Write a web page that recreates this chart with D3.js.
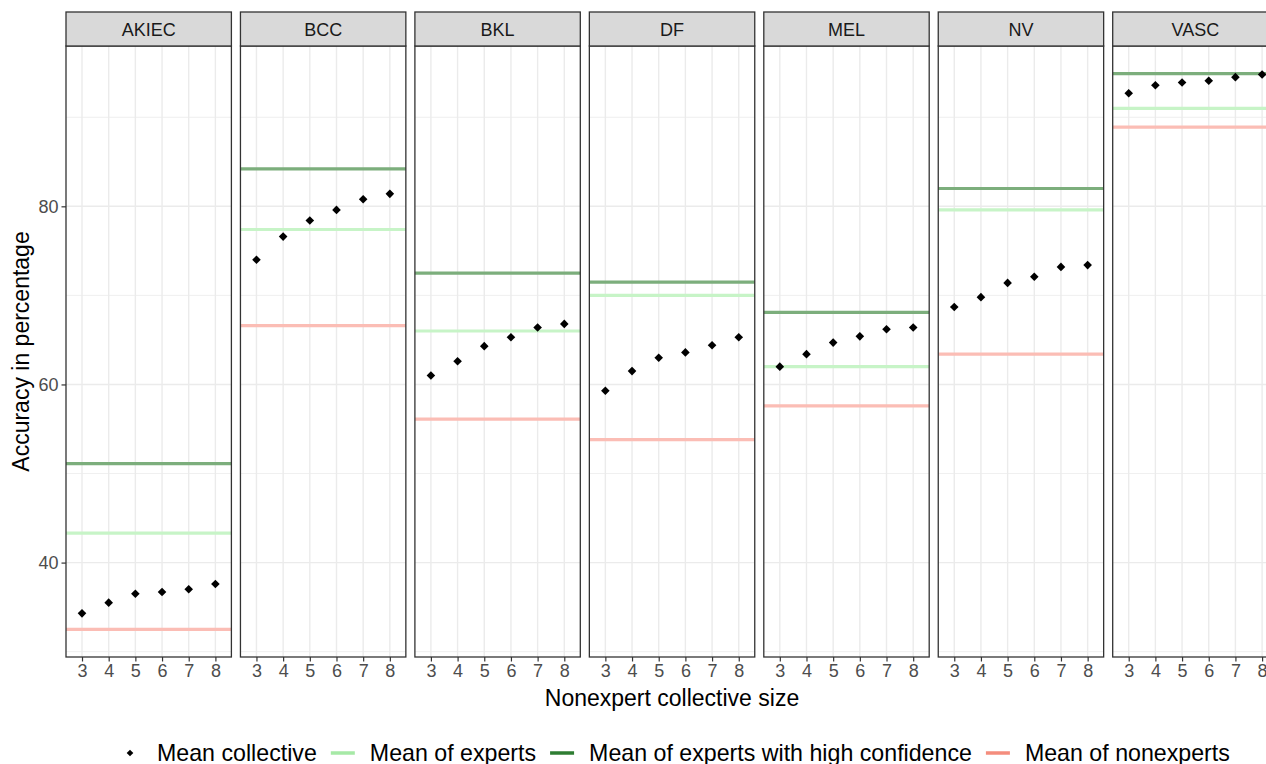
<!DOCTYPE html>
<html>
<head>
<meta charset="utf-8">
<script src="https://cdn.jsdelivr.net/npm/d3@7"></script>
<style>
  body { margin: 0; background: #fff; }
  text { font-family: "Liberation Sans", Arial, sans-serif; }
</style>
</head>
<body>
<div id="vis"></div>
<script>
// data
var categories = ["AKIEC", "BCC", "BKL", "DF", "MEL", "NV", "VASC"];
var sizes = [3, 4, 5, 6, 7, 8];

var collAKIEC = [34.3, 35.5, 36.5, 36.7, 37.0, 37.6];
var collBCC   = [74.0, 76.6, 78.4, 79.6, 80.8, 81.4];
var collBKL   = [61.0, 62.6, 64.3, 65.3, 66.4, 66.8];
var collDF    = [59.3, 61.5, 63.0, 63.6, 64.4, 65.3];
var collMEL   = [62.0, 63.4, 64.7, 65.4, 66.2, 66.4];
var collNV    = [68.7, 69.8, 71.4, 72.1, 73.2, 73.4];
var collVASC  = [92.7, 93.6, 93.9, 94.1, 94.5, 94.8];

var meanExperts    = [43.3, 77.4, 66.0, 70.0, 62.0, 79.6, 91.0];
var meanHighConf   = [51.1, 84.2, 72.5, 71.5, 68.1, 82.0, 94.9];
var meanNonexperts = [32.5, 66.6, 56.1, 53.8, 57.6, 63.4, 88.9];

var yTicks = [40, 60, 80];
var yMinor = [30, 50, 70, 90];

var legendLabels = ["Mean collective", "Mean of experts", "Mean of experts with high confidence", "Mean of nonexperts"];

var collective = [collAKIEC, collBCC, collBKL, collDF, collMEL, collNV, collVASC];

var w = 1266, h = 764;

var svg = d3.select("#vis").append("svg")
  .attr("width", w).attr("height", h);

// panel layout
var step = 174.45, gap = 9.05;
var pLeft = 66, pTop = 46, pBottom = 657, stripTop = 12;

var fx = d3.scaleBand()
  .domain(categories)
  .range([pLeft, pLeft + step * (categories.length - gap / step)])
  .paddingInner(gap / step)
  .paddingOuter(0);

var x = d3.scalePoint()
  .domain(sizes)
  .range([0, fx.bandwidth()])
  .padding(0.6);

var y = d3.scaleLinear()
  .domain([29.4, 98.0])
  .range([pBottom, pTop]);

var lineCols = { experts: "#c7f4c7", high: "#7cae7c", non: "#fbbdb5" };

var panels = svg.selectAll("g.panel")
  .data(categories)
  .enter().append("g")
  .attr("class", "panel")
  .attr("transform", d => `translate(${fx(d)},0)`);

panels.each(function(cat, i) {
  var g = d3.select(this);
  var bw = fx.bandwidth();

  // grid
  g.selectAll("line.minor").data(yMinor).enter().append("line")
    .attr("x1", 0).attr("x2", bw)
    .attr("y1", d => y(d)).attr("y2", d => y(d))
    .attr("stroke", "#ebebeb").attr("stroke-width", 0.8);
  g.selectAll("line.major").data(yTicks).enter().append("line")
    .attr("x1", 0).attr("x2", bw)
    .attr("y1", d => y(d)).attr("y2", d => y(d))
    .attr("stroke", "#ebebeb").attr("stroke-width", 1.4);
  g.selectAll("line.vx").data(sizes).enter().append("line")
    .attr("x1", d => x(d)).attr("x2", d => x(d))
    .attr("y1", pTop).attr("y2", pBottom)
    .attr("stroke", "#ebebeb").attr("stroke-width", 1.4);

  // reference lines
  var refs = [
    [meanExperts[i], lineCols.experts],
    [meanHighConf[i], lineCols.high],
    [meanNonexperts[i], lineCols.non]
  ];
  g.selectAll("line.ref").data(refs).enter().append("line")
    .attr("x1", 0).attr("x2", bw)
    .attr("y1", d => y(d[0])).attr("y2", d => y(d[0]))
    .attr("stroke", d => d[1]).attr("stroke-width", 3.2);

  // points
  g.selectAll("path.pt").data(collective[i]).enter().append("path")
    .attr("d", "M0,-4.3L4.3,0L0,4.3L-4.3,0Z")
    .attr("transform", (d, j) => `translate(${x(sizes[j])},${y(d)})`)
    .attr("fill", "#000");

  // panel border
  g.append("rect")
    .attr("x", 0).attr("y", pTop).attr("width", bw).attr("height", pBottom - pTop)
    .attr("fill", "none").attr("stroke", "#333").attr("stroke-width", 1.3);

  // strip
  g.append("rect")
    .attr("x", 0).attr("y", stripTop).attr("width", bw).attr("height", pTop - stripTop)
    .attr("fill", "#d9d9d9").attr("stroke", "#333").attr("stroke-width", 1.3);
  g.append("text")
    .attr("x", bw / 2).attr("y", 35.5)
    .attr("text-anchor", "middle")
    .attr("font-size", 18).attr("fill", "#1a1a1a")
    .text(cat);

  // x axis
  var ax = g.append("g").attr("transform", `translate(0,${pBottom})`)
    .call(d3.axisBottom(x).tickSize(4.5).tickPadding(3));
  ax.select(".domain").remove();
  ax.selectAll("line").attr("stroke", "#333").attr("stroke-width", 1.2);
  ax.selectAll("text").attr("font-size", 18).attr("fill", "#4d4d4d")
    .attr("font-family", "Liberation Sans, Arial, sans-serif");
});

// y axis
var ay = svg.append("g").attr("transform", `translate(${pLeft},0)`)
  .call(d3.axisLeft(y).tickValues(yTicks).tickSize(4.5).tickPadding(3));
ay.select(".domain").remove();
ay.selectAll("line").attr("stroke", "#333").attr("stroke-width", 1.2);
ay.selectAll("text").attr("font-size", 18).attr("fill", "#4d4d4d")
  .attr("font-family", "Liberation Sans, Arial, sans-serif");

// axis titles
svg.append("text")
  .attr("x", 672).attr("y", 706)
  .attr("text-anchor", "middle").attr("font-size", 23).attr("fill", "#000")
  .text("Nonexpert collective size");
svg.append("text")
  .attr("transform", `translate(29,${(pTop + pBottom) / 2}) rotate(-90)`)
  .attr("text-anchor", "middle").attr("font-size", 23).attr("fill", "#000")
  .text("Accuracy in percentage");

// legend
var legendKeys = ["point", "#a6e9a6", "#2e7d32", "#f48d7d"];
var lg = svg.append("g");
var lx = 118, ly = 753;
legendLabels.forEach(function(lab, i) {
  var k = legendKeys[i];
  if (k === "point") {
    lg.append("path")
      .attr("d", "M0,-3.3L3.3,0L0,3.3L-3.3,0Z")
      .attr("transform", `translate(${lx + 12},${ly})`)
      .attr("fill", "#000");
  } else {
    lg.append("line")
      .attr("x1", lx).attr("x2", lx + 24)
      .attr("y1", ly).attr("y2", ly)
      .attr("stroke", k).attr("stroke-width", 3.5);
  }
  var t = lg.append("text")
    .attr("x", lx + 39).attr("y", ly + 8)
    .attr("font-size", 23.2).attr("fill", "#000")
    .text(lab);
  lx += 39 + t.node().getComputedTextLength() + 14;
});
</script>
</body>
</html>
